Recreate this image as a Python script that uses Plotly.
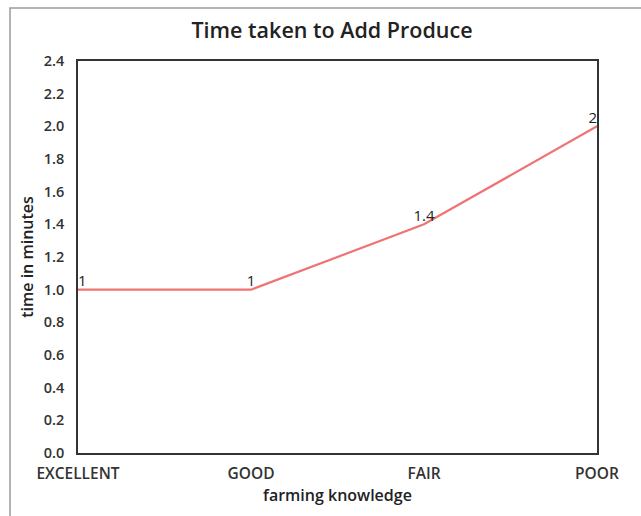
import plotly.graph_objects as go

categories = ["EXCELLENT", "GOOD", "FAIR", "POOR"]
minutes = [1, 1, 1.4, 2]
y_ticks = [0.0, 0.2, 0.4, 0.6, 0.8, 1.0, 1.2, 1.4, 1.6, 1.8, 2.0, 2.2, 2.4]
label_positions = ["top right", "top center", "top center", "top left"]

W, H = 641, 516
L, R, T, B = 78, 44, 61, 63
pw, ph = W - L - R, H - T - B

FONT = "Open Sans"

fig = go.Figure()
fig.add_trace(go.Scatter(
    x=list(range(len(categories))),
    y=minutes,
    mode="lines+text",
    text=[f"{v:g}" for v in minutes],
    textposition=label_positions,
    textfont=dict(family=FONT, size=15, color="#222"),
    line=dict(color="#f07373", width=2.2),
    cliponaxis=False,
    hoverinfo="skip",
))

fig.update_layout(
    width=W, height=H,
    margin=dict(l=L, r=R, t=T, b=B),
    paper_bgcolor="white",
    plot_bgcolor="white",
    showlegend=False,
    title=dict(text="Time taken to Add Produce", x=332 / W, xanchor="center",
               y=1 - 30 / H, yanchor="middle",
               font=dict(family=FONT, size=21.5, color="#222", weight=600)),
    xaxis=dict(
        tickmode="array",
        tickvals=list(range(len(categories))),
        ticktext=categories,
        range=[0, len(categories) - 1],
        showgrid=False, zeroline=False,
        showline=True, mirror=True, linecolor="#333", linewidth=1.5,
        ticks="", tickfont=dict(family=FONT, size=15.5, color="#333", weight=600),
        ticklabelstandoff=6,
        title=dict(text="farming knowledge", standoff=6,
                   font=dict(family=FONT, size=16, color="#222", weight=600)),
    ),
    yaxis=dict(
        tickmode="array",
        tickvals=y_ticks,
        ticktext=[f"{v:.1f}" for v in y_ticks],
        range=[0, 2.4],
        showgrid=False, zeroline=False,
        showline=True, mirror=True, linecolor="#333", linewidth=1.5,
        ticks="", tickfont=dict(family=FONT, size=14.5, color="#333", weight=600),
        ticklabelstandoff=9,
        title=dict(text="time in minutes", standoff=6,
                   font=dict(family=FONT, size=16, color="#222", weight=600)),
    ),
)

# outer frame around the chart
fig.add_shape(
    type="rect", xref="paper", yref="paper", layer="below",
    x0=(10 - L) / pw, x1=(W + 20 - L) / pw,
    y0=(H - B - (H + 20)) / ph, y1=(H - B - 8) / ph,
    line=dict(color="#9a9a9a", width=1.5),
)

fig.write_html("out.html")
